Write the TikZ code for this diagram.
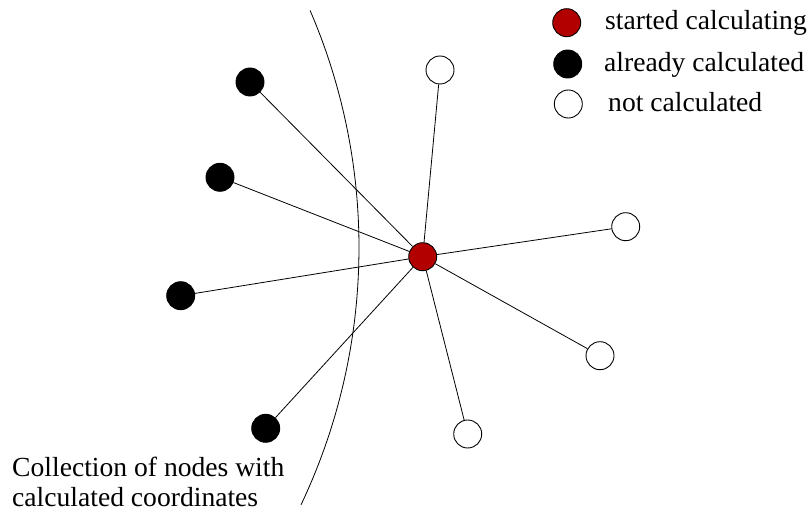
\documentclass[tikz,border=0pt]{standalone}
\usepackage{fontspec}
\setmainfont{Liberation Serif}
\definecolor{redfill}{RGB}{178,0,0}
\tikzset{
  vtx/.style={circle, draw=black, line width=0.9bp, minimum size=28bp, inner sep=0pt},
  redv/.style={vtx, fill=redfill},
  blackv/.style={vtx, fill=black},
  whitev/.style={vtx, fill=white},
  edge/.style={draw=black, line width=0.8bp},
  lbl/.style={anchor=base west, inner sep=0pt, font=\fontsize{27.6bp}{32bp}\selectfont}
}
\begin{document}
\begin{tikzpicture}[x=1bp, y=-1bp]
\useasboundingbox (0,0) rectangle (807,520);
% boundary curve
\draw[line width=0.8bp, domain=-23.3:25.4, samples=80, smooth] plot ({-240.6+599.6*cos(\x)}, {247.6+599.6*sin(\x)});
% nodes
\node[redv] (c) at (422.7,256.7) {};
\node[blackv] (b1) at (250,82) {};
\node[blackv] (b2) at (220,177.3) {};
\node[blackv] (b3) at (180.7,295.7) {};
\node[blackv] (b4) at (265.7,428.3) {};
\node[whitev] (w1) at (440,70) {};
\node[whitev] (w2) at (625.7,226.7) {};
\node[whitev] (w3) at (600,355.7) {};
\node[whitev] (w4) at (467.7,434) {};
% edges
\foreach \n in {b1,b2,b3,b4,w1,w2,w3,w4} {\draw[edge] (c) -- (\n);}
% legend
\node[redv] (lr) at (566.7,22.7) {};
\node[blackv] (lb) at (567.7,64) {};
\node[whitev] (lw) at (568.3,104) {};
\node[lbl] (t1) at (605,30) {started calculating};
\node[lbl] (t2) at (604,71.7) {already calculated};
\node[lbl] (t3) at (608,111.7) {not calculated};
% caption
\node[lbl] (cap1) at (12,476) {Collection of nodes with};
\node[lbl] (cap2) at (12,506.7) {calculated coordinates};
\end{tikzpicture}
\end{document}
